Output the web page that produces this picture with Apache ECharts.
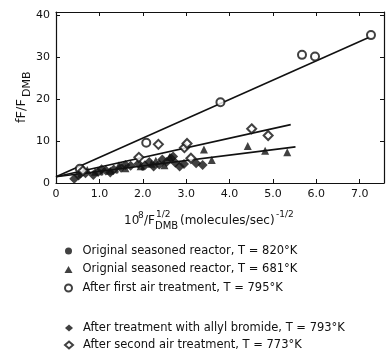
<!DOCTYPE html>
<html><head><meta charset="utf-8">
<script src="https://cdn.jsdelivr.net/npm/echarts@6/dist/echarts.min.js"></script>
<style>html,body{margin:0;padding:0;background:#fff}#c{width:387px;height:353px}</style>
</head><body><div id="c"></div>
<script>
// ---- data ----
const seriesNames = [
  'Original seasoned reactor, T = 820°K',
  'Orignial seasoned reactor, T = 681°K',
  'After first air treatment, T = 795°K',
  'After treatment with allyl bromide, T = 793°K',
  'After second air treatment, T = 773°K'
];
const xTicks = [0, 1, 2, 3, 4, 5, 6, 7];
const yTicks = [0, 10, 20, 30, 40];
const orig820 = [[0.55,1.6],[1.05,2.2],[1.4,2.7],[2.0,3.4]];
const orig681 = [[0.72,3.1],[0.9,2.7],[1.25,2.9],[1.45,4.2],[1.6,3.5],[1.95,4.0],[2.2,4.6],[2.3,5.3],[2.5,4.2],[2.62,6.2],[3.41,8.0],[3.59,5.5],[4.42,8.8],[4.82,7.7],[5.33,7.3]];
const firstAir795 = [[0.55,3.4],[2.08,9.6],[3.79,19.2],[5.67,30.5],[5.97,30.1],[7.26,35.2]];
const allyl793 = [[0.42,1.0],[0.52,1.8],[0.68,2.3],[0.86,1.9],[0.97,2.6],[1.05,3.3],[1.15,3.0],[1.25,2.5],[1.33,3.2],[1.5,3.6],[1.6,4.3],[1.72,4.1],[1.9,4.6],[2.05,4.2],[2.15,5.0],[2.25,3.9],[2.38,4.4],[2.45,5.6],[2.55,5.0],[2.65,5.9],[2.7,6.3],[2.75,4.8],[2.85,3.9],[2.95,4.5],[3.23,4.7],[3.38,4.3]];
const secondAir773 = [[0.62,2.9],[1.91,6.1],[2.36,9.2],[2.96,8.4],[3.02,9.4],[3.11,5.9],[4.51,12.9],[4.89,11.3]];
const fitUpper = [[0,1.5],[7.22,34.7]];
const fitMiddle = [[0,1.5],[5.41,13.9]];
const fitLower = [[0,1.5],[5.52,8.6]];

const FONT = 'DejaVu Sans';
const chart = echarts.init(document.getElementById('c'), null, {renderer:'canvas'});
const isTick = (v, arr) => arr.some(t => Math.abs(t - v) < 1e-6);
const black = '#111';
function sc(name, data, symbol, size, filled) {
  return {
    type:'scatter', name, data, symbol, symbolSize:size, xAxisIndex:0, yAxisIndex:0,
    itemStyle: filled ? {color:black} : {color:black, borderColor:black, borderWidth:1},
    emphasis:{disabled:true}, z:3
  };
}
function fit(data) {
  return {type:'line', data, symbol:'none', lineStyle:{color:black, width:1.6}, silent:true, z:2};
}
function axisBase() {
  return {
    type:'value', axisLine:{show:true, onZero:false, lineStyle:{color:black, width:1.2}},
    axisTick:{show:true, inside:true, length:4, lineStyle:{color:black}},
    splitLine:{show:false}
  };
}
chart.setOption({
  animation:false,
  backgroundColor:'#fff',
  grid:{left:56, right:2, top:12, bottom:170},
  xAxis:[
    Object.assign(axisBase(), {min:0, max:7.56, interval:1, position:'bottom',
      axisLabel:{color:black, fontFamily:FONT, fontSize:11, margin:6,
        formatter:v => isTick(v, xTicks) ? (v === 0 ? '0' : v.toFixed(1)) : ''}}),
    Object.assign(axisBase(), {min:0, max:7.56, interval:1, position:'top', axisLabel:{show:false}})
  ],
  yAxis:[
    Object.assign(axisBase(), {min:0, max:40.7, interval:10, position:'left',
      axisLabel:{color:black, fontFamily:FONT, fontSize:11, margin:6,
        formatter:v => isTick(v, yTicks) ? String(v) : ''}}),
    Object.assign(axisBase(), {min:0, max:40.7, interval:10, position:'right', axisLabel:{show:false}})
  ],
  legend:[
    {data:seriesNames.slice(0,3), orient:'vertical', left:64, top:244, padding:0, itemWidth:8, itemHeight:7, itemGap:4.5,
      textStyle:{fontFamily:FONT, fontSize:11.5, color:black, lineHeight:14, padding:[0,0,0,5]}, selectedMode:false},
    {data:seriesNames.slice(3), orient:'vertical', left:64, top:321, padding:0, itemWidth:8, itemHeight:7, itemGap:3,
      textStyle:{fontFamily:FONT, fontSize:11.5, color:black, lineHeight:14, padding:[0,0,0,5]}, selectedMode:false}
  ],
  series:[
    fit(fitUpper), fit(fitMiddle), fit(fitLower),
    sc(seriesNames[0], orig820, 'circle', 4, true),
    sc(seriesNames[1], orig681, 'triangle', 8, true),
    sc(seriesNames[2], firstAir795, 'emptyCircle', 8, false),
    sc(seriesNames[3], allyl793, 'diamond', 10, true),
    sc(seriesNames[4], secondAir773, 'emptyDiamond', 9, false)
  ],
  graphic:[
    {type:'group', x:22, y:123, rotation:Math.PI/2, children:[
      {type:'text', x:0, y:0, style:{text:'fF/F', font:'13px "DejaVu Sans"', fill:black, align:'left', verticalAlign:'middle'}},
      {type:'text', x:26, y:5, style:{text:'DMB', font:'11px "DejaVu Sans"', fill:black, align:'left', verticalAlign:'middle'}}
    ]},
    {type:'text', x:124, y:221, style:{text:'10', font:'12px "DejaVu Sans"', fill:black, verticalAlign:'middle'}},
    {type:'text', x:138, y:216, style:{text:'8', font:'9px "DejaVu Sans"', fill:black, verticalAlign:'middle'}},
    {type:'text', x:144, y:221, style:{text:'/F', font:'12px "DejaVu Sans"', fill:black, verticalAlign:'middle'}},
    {type:'text', x:156, y:215, style:{text:'1/2', font:'9px "DejaVu Sans"', fill:black, verticalAlign:'middle'}},
    {type:'text', x:155, y:226, style:{text:'DMB', font:'10px "DejaVu Sans"', fill:black, verticalAlign:'middle'}},
    {type:'text', x:180, y:221, style:{text:'(molecules/sec)', font:'12px "DejaVu Sans"', fill:black, verticalAlign:'middle'}},
    {type:'text', x:276, y:215, style:{text:'-1/2', font:'9px "DejaVu Sans"', fill:black, verticalAlign:'middle'}}
  ]
});
</script></body></html>
